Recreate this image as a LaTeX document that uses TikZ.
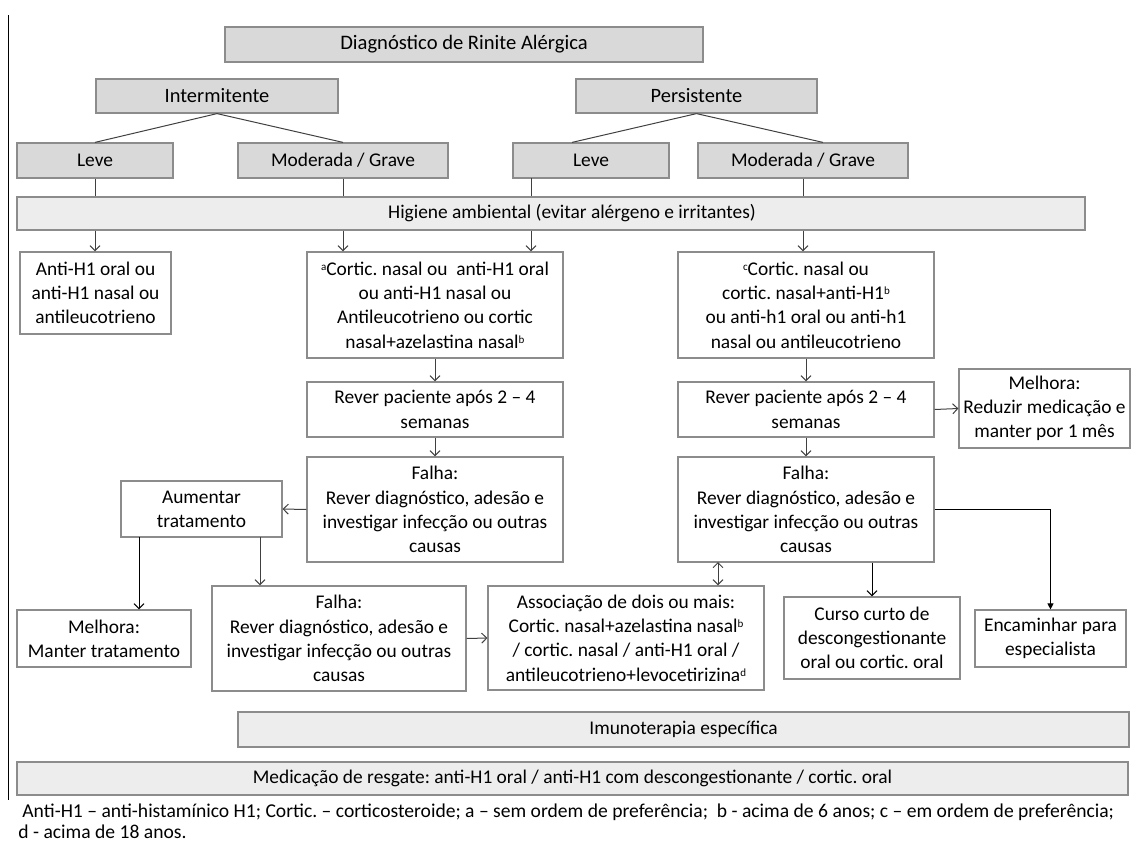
\documentclass[tikz,border=0pt]{standalone}
\usepackage{fontspec}
\setmainfont{Carlito}
\usetikzlibrary{arrows.meta}
\frenchspacing
\definecolor{cinzaA}{HTML}{D9D9D9}
\definecolor{cinzaB}{HTML}{EDEDED}
\definecolor{borda}{HTML}{8C8C8C}
\definecolor{linha}{HTML}{404040}
% caixa: estilo, x1, y1, x2, y2, nome, texto (em px da figura)
\newcommand{\caixa}[7]{\node[#1, minimum width={(#4-#2)*0.5pt}, minimum height={(#5-#3)*0.5pt}] (#6) at ({(#2+#4)/2},{(#3+#5)/2}) {#7};}
\newcommand{\sobre}[1]{\raisebox{0.55ex}{\fontsize{5.5}{6}\selectfont #1}}
\tikzset{
  cx/.style={draw=borda, line width=0.6pt, inner sep=0pt, align=center, font=\fontsize{9.7}{12.15}\selectfont},
  cxe/.style={cx, fill=cinzaA},
  cxc/.style={cx, fill=cinzaB},
  cxb/.style={cx, fill=white},
  liga/.style={draw=linha, line width=0.5pt},
  seta/.style={liga, -{Straight Barb[length=2.5pt,width=5pt]}},
}

\begin{document}
\begin{tikzpicture}[x=0.5pt,y=-0.5pt]
\useasboundingbox (0,0) rectangle (1132,847);
\draw[line width=0.4pt] (8,15) -- (8,800);
% classificacao
\caixa{cxe, font=\fontsize{10.3}{12.5}\selectfont}{225}{27}{703}{62}{diag}{Diagnóstico de Rinite Alérgica}
\caixa{cxe, font=\fontsize{10.2}{12.5}\selectfont}{96}{79}{338}{113}{inter}{Intermitente}
\caixa{cxe, font=\fontsize{10.2}{12.5}\selectfont}{576}{79}{817}{113}{pers}{Persistente}
\caixa{cxe}{17}{143}{173}{178}{leveI}{Leve}
\caixa{cxe}{238}{143}{448}{178}{modI}{Moderada / Grave}
\caixa{cxe}{513}{143}{669}{178}{leveP}{Leve}
\caixa{cxe}{698}{143}{908}{178}{modP}{Moderada / Grave}
\caixa{cxc}{17}{197}{1085}{230}{hig}{\hspace*{21pt}Higiene ambiental (evitar alérgeno e irritantes)}
\draw[liga] (inter.south) -- (leveI.north);
\draw[liga] (inter.south) -- (modI.north);
\draw[liga] (pers.south) -- ([xshift=-9.5pt]leveP.north);
\draw[liga] (pers.south) -- ([xshift=10pt]modP.north);
\coordinate (pl) at (531,178);
\draw[liga] (leveI.south) -- (leveI |- hig.north);
\draw[liga] (modI.south) -- (modI |- hig.north);
\draw[liga] (pl) -- (pl |- hig.north);
\draw[liga] (modP.south) -- (modP |- hig.north);
% tratamento inicial
\caixa{cxb}{20}{252}{171}{334}{anti}{Anti-H1 oral ou\\anti-H1 nasal ou\\antileucotrieno}
\caixa{cxb}{307}{252}{563}{358}{corA}{\sobre{a}Cortic. nasal ou\ \ anti-H1 oral\\ou anti-H1 nasal ou\\Antileucotrieno ou cortic\\nasal+azelastina nasal\sobre{b}}
\caixa{cxb}{678}{252}{934}{358}{corP}{\sobre{c}Cortic. nasal ou\\cortic. nasal+anti-H1\sobre{b}\\ou anti-h1 oral ou anti-h1\\nasal ou antileucotrieno}
\draw[seta] (leveI |- hig.south) -- (leveI |- anti.north);
\draw[seta] (modI |- hig.south) -- (modI |- corA.north);
\draw[seta] (pl |- hig.south) -- (pl |- corA.north);
\draw[seta] (modP |- hig.south) -- (modP |- corP.north);
% reavaliacao
\caixa{cxb}{307}{382}{563}{437}{revA}{Rever paciente após 2 – 4\\semanas}
\caixa{cxb}{678}{382}{934}{437}{revP}{Rever paciente após 2 – 4\\semanas}
\caixa{cxb}{959}{369}{1130}{448}{melhP}{Melhora:\\Reduzir medicação e\\manter por 1 mês}
\caixa{cxb}{307}{457}{563}{562}{falA}{Falha:\\Rever diagnóstico, adesão e\\investigar infecção ou outras\\causas}
\caixa{cxb}{678}{457}{934}{562}{falP}{Falha:\\Rever diagnóstico, adesão e\\investigar infecção ou outras\\causas}
\caixa{cxb}{121}{481}{282}{537}{aum}{Aumentar\\tratamento}
\draw[seta] (corA) -- (revA);
\draw[seta] (corP) -- (revP);
\draw[seta] (revA) -- (falA);
\draw[seta] (revP) -- (falP);
\draw[seta] (revP.east) -- (melhP.west);
\draw[seta] (falA.west) -- (aum.east);
% segunda linha
\caixa{cxb}{17}{610}{191}{667}{melhA}{Melhora:\\Manter tratamento}
\caixa{cxb}{212}{586}{466}{691}{falB}{Falha:\\Rever diagnóstico, adesão e\\investigar infecção ou outras\\causas}
\caixa{cxb}{488}{586}{764}{690}{assoc}{Associação de dois ou mais:\\Cortic. nasal+azelastina nasal\sobre{b}\\/ cortic. nasal / anti-H1 oral /\\antileucotrieno+levocetirizina\sobre{d}}
\caixa{cxb}{784}{597}{960}{679}{curso}{Curso curto de\\descongestionante\\oral ou cortic. oral}
\caixa{cxb}{975}{610}{1126}{667}{enc}{Encaminhar para\\especialista}
\coordinate (a1) at (139,537);
\coordinate (a2) at (260,537);
\coordinate (d1) at (718,562);
\draw[seta, draw=black] (a1) -- (a1 |- melhA.north);
\draw[seta] (a2) -- (a2 |- falB.north);
\draw[seta] (falB.east) -- (assoc.west);
\draw[liga, {Straight Barb[length=2.5pt,width=5pt]}-{Straight Barb[length=2.5pt,width=5pt]}] (d1) -- (d1 |- assoc.north);
\draw[seta, draw=black] (curso |- falP.south) -- (curso.north);
\draw[draw=black, line width=0.5pt, -{Triangle[length=3pt,width=3pt]}] (falP.east) -- (falP.east -| enc) -- (enc.north);
% faixas finais
\caixa{cxc}{238}{712}{1129}{747}{imuno}{Imunoterapia específica}
\caixa{cxc}{17}{762}{1128}{795}{medic}{Medicação de resgate: anti-H1 oral / anti-H1 com descongestionante / cortic. oral}
\node[anchor=base west, inner sep=0pt, font=\fontsize{9.8}{12.15}\selectfont] (nota1) at (22,817) {Anti-H1 – anti-histamínico H1; Cortic. – corticosteroide; a – sem ordem de preferência;\ \ b - acima de 6 anos; c – em ordem de preferência;};
\node[anchor=base west, inner sep=0pt, font=\fontsize{9.8}{12.15}\selectfont] (nota2) at (18,838) {d - acima de 18 anos.};
\end{tikzpicture}
\end{document}
